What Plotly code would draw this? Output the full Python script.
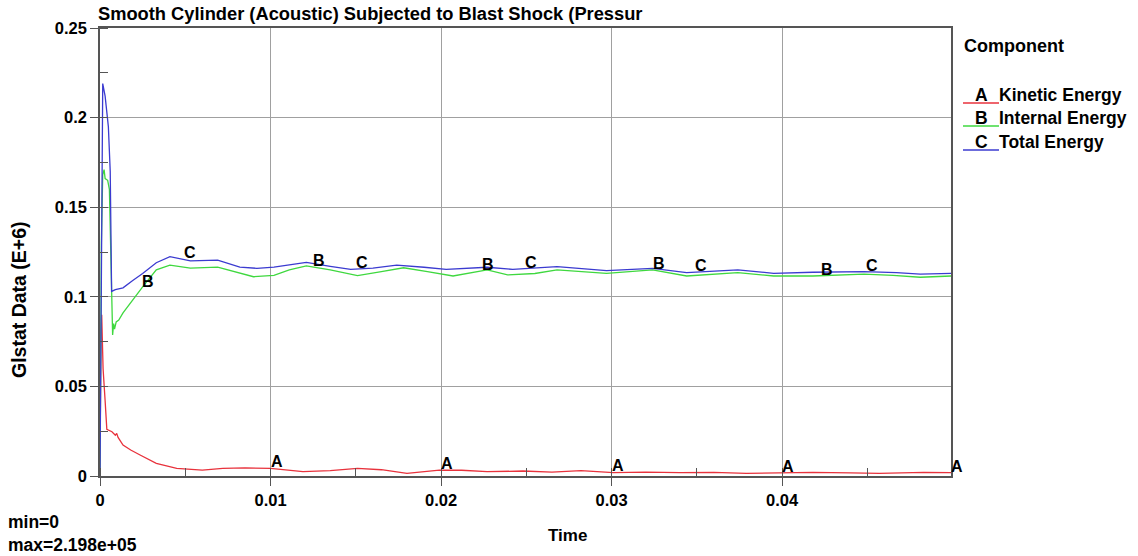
import numpy as np
import plotly.graph_objects as go

# ---------------- data (values in E+6 units) ----------------
t_kinetic = [0, 0.00005, 0.0001, 0.00018, 0.0003, 0.0004, 0.0007, 0.0009, 0.00098, 0.00106,
             0.00135, 0.0018, 0.00235, 0.0033, 0.0045, 0.006, 0.0072, 0.0085, 0.01, 0.011,
             0.0119, 0.0135, 0.0151, 0.0165, 0.018, 0.0199, 0.0212, 0.0227, 0.0248, 0.0265,
             0.0282, 0.0301, 0.032, 0.034, 0.036, 0.0379, 0.04, 0.0418, 0.044, 0.0457,
             0.0483, 0.0499]
kinetic = [0, 0.08, 0.09, 0.06, 0.042, 0.026, 0.0247, 0.0228, 0.0238, 0.0215,
           0.0173, 0.0145, 0.0117, 0.0071, 0.0043, 0.0033, 0.0043, 0.0045, 0.0043, 0.0035,
           0.0024, 0.003, 0.0043, 0.0035, 0.0015, 0.0033, 0.0032, 0.0024, 0.0028, 0.0022,
           0.003, 0.0019, 0.0022, 0.0019, 0.002, 0.0015, 0.0018, 0.002, 0.0017, 0.0015,
           0.002, 0.0019]

t_internal = [0, 0.00008, 0.00016, 0.00024, 0.0003, 0.00045, 0.00055, 0.00074, 0.0008, 0.00085,
              0.00095, 0.0011, 0.00135, 0.0019, 0.0025, 0.0033, 0.0041, 0.0053, 0.0069, 0.009,
              0.0102, 0.0111, 0.0121, 0.0135, 0.0151, 0.0165, 0.0178, 0.0192, 0.0207, 0.0227,
              0.0239, 0.0255, 0.0268, 0.0297, 0.0324, 0.0344, 0.0374, 0.0395, 0.0418, 0.0448,
              0.0465, 0.0481, 0.0499]
internal = [0, 0.13, 0.168, 0.171, 0.166, 0.165, 0.16, 0.0787, 0.085, 0.082,
            0.086, 0.087, 0.091, 0.098, 0.1055, 0.115, 0.1177, 0.116, 0.1166, 0.1112,
            0.112, 0.115, 0.1172, 0.115, 0.1118, 0.114, 0.1162, 0.114, 0.1116, 0.115,
            0.1122, 0.113, 0.115, 0.1131, 0.115, 0.1116, 0.1135, 0.1116, 0.1116, 0.1126,
            0.112, 0.1109, 0.1116]

t_total = [0, 0.00008, 0.00016, 0.0003, 0.00049, 0.0006, 0.00068, 0.0009, 0.00135, 0.0019,
           0.0025, 0.0033, 0.0041, 0.0053, 0.0069, 0.0082, 0.0092, 0.0102, 0.0121, 0.0135,
           0.0147, 0.016, 0.0174, 0.019, 0.0203, 0.0227, 0.0242, 0.0268, 0.0297, 0.0324,
           0.0344, 0.0374, 0.0395, 0.0418, 0.0448, 0.0467, 0.0481, 0.0499]
total = [0, 0.15, 0.219, 0.212, 0.195, 0.17, 0.103, 0.104, 0.105, 0.109,
         0.113, 0.119, 0.1224, 0.1201, 0.1205, 0.1166, 0.1159, 0.1166, 0.1192, 0.117,
         0.1153, 0.116, 0.1177, 0.1165, 0.1153, 0.1165, 0.1153, 0.1168, 0.1146, 0.1159,
         0.1135, 0.115, 0.1131, 0.1137, 0.114, 0.1135, 0.1126, 0.1131]

labels_A = [0.01, 0.02, 0.03, 0.04, 0.0499]
labels_B = [0.00246, 0.0125, 0.0224, 0.0324, 0.0423]
labels_C = [0.0049, 0.0150, 0.0249, 0.0349, 0.0449]

x_ticks = [0, 0.01, 0.02, 0.03, 0.04]
x_ticklabels = ["0", "0.01", "0.02", "0.03", "0.04"]
y_ticks = [0, 0.05, 0.1, 0.15, 0.2, 0.25]
y_ticklabels = ["0", "0.05", "0.1", "0.15", "0.2", "0.25"]

title_text = "Smooth Cylinder (Acoustic) Subjected to Blast Shock (Pressur"
legend_title = "Component"
series_names = ["Kinetic Energy", "Internal Energy", "Total Energy"]
series_letters = ["A", "B", "C"]
colors = ["#e8323c", "#3fd83f", "#3b3bd0"]

# ---------------- figure ----------------
FONT = "Liberation Sans, Arial, sans-serif"
L, R, T, B = 100, 187, 28, 80
W, H = 1138, 556
PW, PH = W - L - R, H - T - B

def px_x(p):
    return (p - L) / PW

def px_y(p):
    return (H - B - p) / PH

def bold(size):
    return dict(family=FONT, size=size, color="black", weight="bold")

fig = go.Figure()
series = [(t_kinetic, kinetic), (t_internal, internal), (t_total, total)]
for (tt, vv), name, col in zip(series, series_names, colors):
    fig.add_trace(go.Scatter(x=tt, y=vv, mode="lines", name=name,
                             line=dict(color=col, width=1.3), showlegend=False))

ann = []
label_sets = [labels_A, labels_B, labels_C]
for (tt, vv), lx, letter in zip(series, label_sets, series_letters):
    for x in lx:
        y = float(np.interp(x, tt, vv))
        ann.append(dict(x=x, y=y, xref="x", yref="y", text=letter, showarrow=False,
                        xanchor="left", yanchor="bottom", yshift=-4, xshift=-2,
                        font=bold(16)))

# title
ann.append(dict(x=px_x(96), y=px_y(13), xref="paper", yref="paper", text=title_text,
                showarrow=False, xanchor="left", yanchor="middle", font=bold(18.3)))
# y-axis title
ann.append(dict(x=px_x(19), y=px_y(300), xref="paper", yref="paper", text="Glstat Data (E+6)",
                showarrow=False, textangle=-90, xanchor="center", yanchor="middle",
                font=bold(19.5)))
# x-axis title
ann.append(dict(x=px_x(567), y=px_y(535), xref="paper", yref="paper", text="Time",
                showarrow=False, xanchor="center", yanchor="middle", font=bold(17)))
# min / max
ann.append(dict(x=px_x(6), y=px_y(522), xref="paper", yref="paper", text="min=0",
                showarrow=False, xanchor="left", yanchor="middle", font=bold(17.5)))
ann.append(dict(x=px_x(6), y=px_y(545), xref="paper", yref="paper", text="max=2.198e+05",
                showarrow=False, xanchor="left", yanchor="middle", font=bold(17.5)))
# legend
ann.append(dict(x=px_x(962), y=px_y(46), xref="paper", yref="paper", text=legend_title,
                showarrow=False, xanchor="left", yanchor="middle", font=bold(18)))
shapes = []
row_y = [95, 118, 142]
for i, (letter, name, col) in enumerate(zip(series_letters, series_names, colors)):
    ry = row_y[i]
    ann.append(dict(x=px_x(981), y=px_y(ry), xref="paper", yref="paper", text=letter,
                    showarrow=False, xanchor="center", yanchor="middle", font=bold(17.5)))
    ann.append(dict(x=px_x(997), y=px_y(ry), xref="paper", yref="paper", text=name,
                    showarrow=False, xanchor="left", yanchor="middle", font=bold(17.5)))
    shapes.append(dict(type="line", xref="paper", yref="paper",
                       x0=px_x(963), x1=px_x(999), y0=px_y(ry + 8), y1=px_y(ry + 8),
                       line=dict(color=col, width=1.3)))

axis_common = dict(showline=True, linecolor="#555555", linewidth=1.5, mirror=True,
                   showgrid=True, gridcolor="#a0a0a0", gridwidth=1,
                   zeroline=False, ticks="outside", ticklen=8, tickcolor="#555555",
                   tickfont=bold(16.5))

fig.update_layout(
    width=W, height=H,
    margin=dict(l=L, r=R, t=T, b=B),
    paper_bgcolor="white", plot_bgcolor="white",
    showlegend=False,
    annotations=ann, shapes=shapes,
    xaxis=dict(range=[0, 0.0499], tickvals=x_ticks, ticktext=x_ticklabels,
               minor=dict(dtick=0.005, tick0=0, ticks="inside", ticklen=8,
                          tickcolor="#555555", showgrid=False),
               **axis_common),
    yaxis=dict(range=[0, 0.25], tickvals=y_ticks, ticktext=y_ticklabels,
               minor=dict(dtick=0.025, tick0=0, ticks="inside", ticklen=8,
                          tickcolor="#555555", showgrid=False),
               **axis_common),
)

fig.write_html("out.html")
